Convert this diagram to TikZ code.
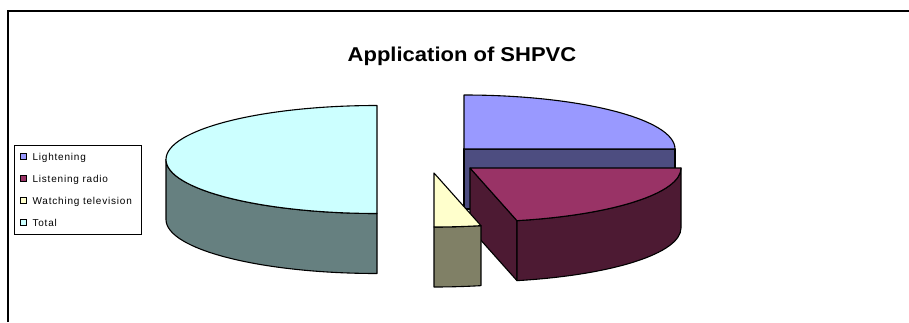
\documentclass[tikz,border=0pt]{standalone}
\usepackage{fontspec}
\setmainfont{Liberation Sans}
\newfontfamily\keyfont{Liberation Sans}[LetterSpace=8]
\usetikzlibrary{positioning}

\definecolor{topL}{HTML}{9999FF}
\definecolor{sideL}{HTML}{4D4D80}
\definecolor{topR}{HTML}{993366}
\definecolor{sideR}{HTML}{4D1A33}
\definecolor{topV}{HTML}{FFFFCC}
\definecolor{sideV}{HTML}{808066}
\definecolor{topT}{HTML}{CCFFFF}
\definecolor{sideT}{HTML}{668080}

\begin{document}
\begin{tikzpicture}[x=1pt, y=1pt,
    slice/.style={draw=black, line width=1.1pt, line join=round},
    rim/.style={x radius=211, y radius=54},
    keybox/.style={draw=black, line width=0.7pt, minimum size=6pt, inner sep=0pt},
    keytext/.style={inner sep=0pt, text height=7.2pt, text depth=0pt,
        font=\keyfont\fontsize{10}{12}\selectfont}]
\useasboundingbox (0,0) rectangle (909,322);
\draw[line width=1.8pt] (8,0) -- (8,311) -- (909,311);
\node[font=\fontsize{20}{24}\selectfont\bfseries, xscale=1.1, anchor=base] (title) at (462,260.3) {Application of SHPVC};

% exploded slice centres
\coordinate (cL) at (464,173);
\coordinate (cR) at (470,154);
\coordinate (cV) at (434,149);
\coordinate (cT) at (377,162.5);
\def\cut{-77.14}

% Lightening
\draw[slice, fill=sideL] (cL) rectangle ++(211,-60);
\draw[slice, fill=topL] (cL) -- ++(0,54) arc[rim, start angle=90, end angle=0] -- cycle;

% Total
\draw[slice, fill=sideT] (cT) ++(-211,0) arc[rim, start angle=180, end angle=270]
    -- ++(0,-60) arc[rim, start angle=270, end angle=180] -- cycle;
\draw[slice, fill=topT] (cT) -- ++(0,54) arc[rim, start angle=90, end angle=270] -- cycle;

% Listening radio
\draw[slice, fill=sideR] (cR) -- ++(\cut:211 and 54) coordinate (pR) -- ++(0,-60)
    -- ([yshift=-60pt]cR) -- cycle;
\draw[slice, fill=sideR] (pR) arc[rim, start angle=\cut, end angle=0]
    -- ++(0,-60) arc[rim, start angle=0, end angle=\cut] -- cycle;
\draw[slice, fill=topR] (cR) -- (pR) arc[rim, start angle=\cut, end angle=0] -- cycle;

% Watching television
\draw[slice, fill=sideV] (cV) ++(0,-54) arc[rim, start angle=-90, end angle=\cut]
    -- ++(0,-60) arc[rim, start angle=\cut, end angle=-90] -- cycle;
\draw[slice, fill=topV] (cV) -- ++(\cut:211 and 54) arc[rim, start angle=\cut, end angle=-90] -- cycle;

% legend
\draw[line width=1pt] (14,88) rectangle (141,177);
\node[keybox, fill=topL] (kL) at (23.5,165.5) {};
\node[keybox, fill=topR] (kR) at (23.5,143.5) {};
\node[keybox, fill=topV] (kV) at (23.5,121.5) {};
\node[keybox, fill=topT] (kT) at (23.5,99.5) {};
\node[keytext, right=5.5pt of kL] (tL) {Lightening};
\node[keytext, right=5.5pt of kR] (tR) {Listening radio};
\node[keytext, right=5.5pt of kV] (tV) {Watching television};
\node[keytext, right=5.5pt of kT] (tT) {Total};
\end{tikzpicture}
\end{document}
